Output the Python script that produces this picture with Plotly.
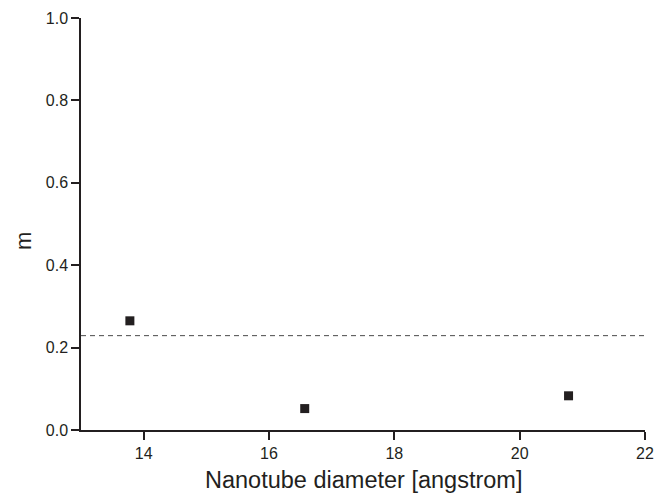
import plotly.graph_objects as go

diameter = [13.78, 16.57, 20.78]
m_values = [0.265, 0.052, 0.083]
mean_level = 0.229
x_range = [13, 22]
y_range = [0, 1.0]
x_ticks = [14, 16, 18, 20, 22]
y_ticks = [0.0, 0.2, 0.4, 0.6, 0.8, 1.0]

ink = "#231f20"

fig = go.Figure()
fig.add_trace(go.Scatter(
    x=x_range, y=[mean_level, mean_level], mode="lines",
    line=dict(color="#4a4a4a", width=1, dash="5px,4px"), showlegend=False,
    hoverinfo="skip"))
fig.add_trace(go.Scatter(
    x=diameter, y=m_values, mode="markers",
    marker=dict(symbol="square", size=9, color=ink), showlegend=False))

fig.update_layout(
    width=661, height=487,
    margin=dict(l=73, r=24, t=10, b=65),
    plot_bgcolor="white", paper_bgcolor="white",
    font=dict(family="Liberation Sans, Arial, sans-serif", color=ink),
    xaxis=dict(
        range=x_range, tickvals=x_ticks, ticktext=[str(v) for v in x_ticks],
        showgrid=False, zeroline=False, showline=True, linecolor=ink, linewidth=1.5,
        ticks="outside", ticklen=8, tickwidth=1.5, tickcolor=ink,
        tickfont=dict(size=16, color=ink), automargin=False,
    ),
    yaxis=dict(
        range=y_range, tickvals=y_ticks, ticktext=[f"{v:.1f}" for v in y_ticks],
        showgrid=False, zeroline=False, showline=True, linecolor=ink, linewidth=1.5,
        ticks="outside", ticklen=8, tickwidth=1.5, tickcolor=ink,
        tickfont=dict(size=16, color=ink), automargin=False,
    ),
    annotations=[
        dict(text="Nanotube diameter [angstrom]", xref="paper", yref="paper",
             x=0.5, y=-0.1214, xanchor="center", yanchor="middle", showarrow=False,
             font=dict(size=23.5, color=ink)),
        dict(text="m", xref="paper", yref="paper", x=-0.1028, y=0.4587,
             xanchor="center", yanchor="middle", showarrow=False, textangle=-90,
             font=dict(size=22, color=ink)),
    ],
)

fig.write_html("out.html")
